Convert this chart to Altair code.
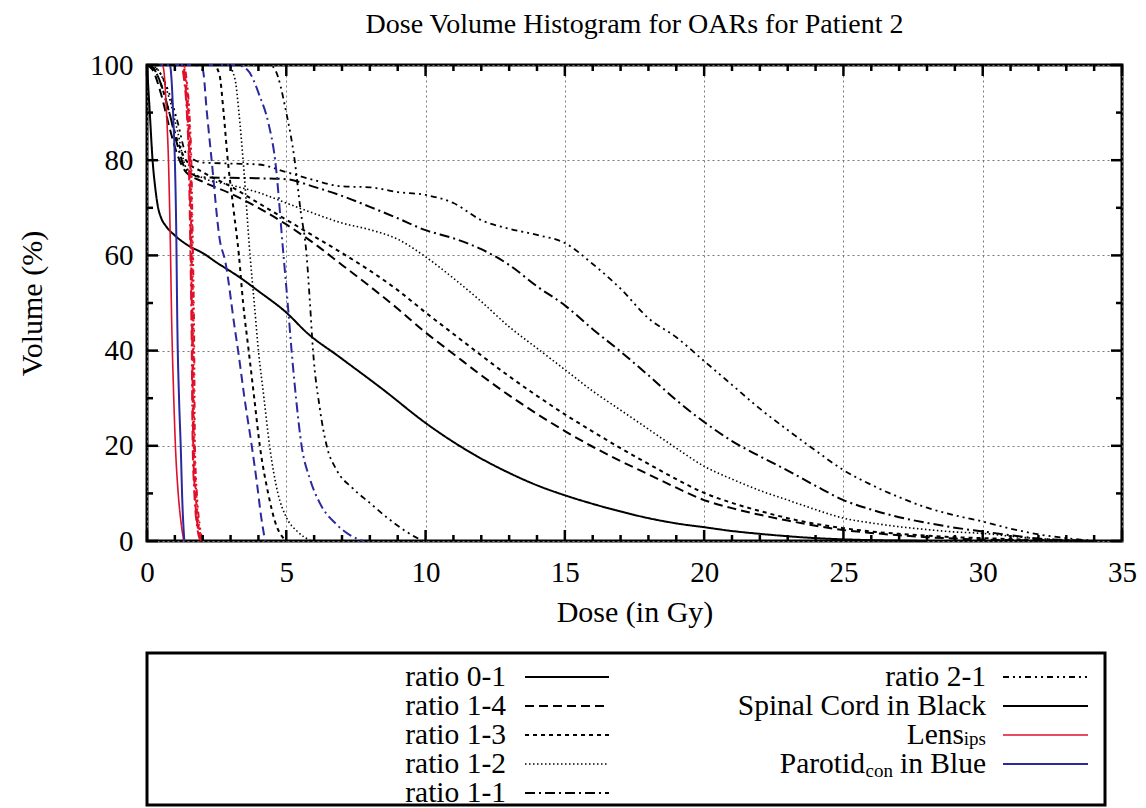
import altair as alt
import pandas as pd

FONT = "Liberation Serif, Times New Roman, Times, serif"
W, H = 975, 476

# ---------------- dose-volume data ----------------
# Spinal cord, shared dose grid (Gy) for the ratio 1-4 .. 2-1 plans
SC_DOSE = [0, 0.2, 0.5, 0.8, 1.1, 1.4, 2, 3, 4, 5, 6, 7, 8, 9, 10, 11, 12, 13, 14, 15,
           16, 17, 18, 19, 20, 21, 22, 23, 24, 25, 26, 27, 28, 29, 30, 31, 32, 33, 34]
SC_1_4 = [100, 99, 94, 87, 81, 77.5, 75.5, 73, 70, 66.5, 62.5, 58, 53.5, 48.8, 43.8, 39.3, 34.8,
          30.6, 26.7, 23.1, 19.8, 16.8, 14, 11.2, 8.6, 6.9, 5.5, 4.3, 3.2, 2.3, 1.7, 1.2, 0.8,
          0.5, 0.3, 0.2, 0.1, 0.05, 0]
SC_1_3 = [100, 99.5, 96, 90, 84, 80, 77.5, 74.5, 71, 67.5, 64, 60.5, 56.8, 52.7, 48, 43.5, 39,
          34.6, 30.5, 26.6, 23, 19.5, 16.2, 13, 10.1, 8, 6.3, 4.8, 3.6, 2.7, 2, 1.5, 1.1, 0.8,
          0.6, 0.4, 0.2, 0.1, 0]
SC_1_2 = [100, 99.8, 98, 93, 86, 78.5, 76.3, 74.8, 73.2, 71, 68.8, 66.8, 65.4, 63.4, 59.7, 55.2,
          50.3, 45, 40.5, 36, 31.5, 27.5, 23.5, 19.5, 15.7, 13, 10.6, 8.6, 6.6, 4.8, 3.8, 3, 2.4,
          1.9, 1.6, 1, 0.5, 0.2, 0]
SC_1_1 = [100, 99.5, 96, 90, 83, 78, 76.4, 76.3, 76.2, 76, 74.4, 72.5, 70.2, 67.8, 65.3, 63.6,
          61.3, 58, 53.5, 49.5, 44.5, 39.8, 34.8, 29.6, 25, 21, 17.8, 14.8, 11.6, 8.6, 6.6, 5,
          3.8, 2.8, 2, 1.2, 0.5, 0.2, 0]
SC_2_1 = [100, 99.8, 98, 94, 88, 81.5, 79.5, 79.3, 79.1, 77.5, 75.8, 74.5, 74.3, 73.3, 72.7, 71,
          67.4, 65.6, 64.3, 62.6, 58.2, 53, 46.8, 42.8, 37.8, 32.8, 27.8, 23.3, 19, 14.9, 11.8,
          9.2, 7, 5.4, 4.1, 2.6, 1.4, 0.6, 0]
SC_0_1_DOSE = [0, 0.05, 0.1, 0.2, 0.3, 0.4, 0.5, 0.7, 1, 1.5, 2, 2.5, 3.3, 4, 5, 5.75, 6.9, 8.5,
               10, 11, 12, 13, 14, 15, 16, 17, 18, 19, 20, 21, 22, 23, 24, 25, 26, 27, 28]
SC_0_1 = [100, 95, 90, 80, 74, 70, 68, 66, 64.2, 62, 60.5, 58.5, 55.5, 52.5, 48, 43.7, 38.7, 31.7,
          24.8, 20.8, 17.3, 14.3, 11.7, 9.6, 7.8, 6.2, 4.8, 3.7, 2.9, 2.1, 1.5, 1.0, 0.6, 0.35,
          0.18, 0.08, 0]

# Lens (ipsilateral)
LENS_0_1_DOSE = [0, 0.55, 0.62, 0.7, 0.77, 0.83, 0.89, 0.95, 1.02, 1.12, 1.22, 1.32]
LENS_0_1 = [100, 100, 98, 90, 80, 65, 45, 32, 20, 10, 4, 0]
LENS_VOL = [100, 100, 97, 90, 80, 60, 44, 20, 10, 3, 0]
LENS_1_4_DOSE = [0, 1.25, 1.35, 1.45, 1.52, 1.58, 1.62, 1.66, 1.72, 1.82, 1.95]
LENS_1_3_DOSE = [0, 1.28, 1.38, 1.48, 1.55, 1.6, 1.64, 1.68, 1.75, 1.85, 1.97]
LENS_1_2_DOSE = [0, 1.3, 1.4, 1.5, 1.57, 1.63, 1.67, 1.7, 1.77, 1.87, 2.0]
LENS_1_1_DOSE = [0, 1.22, 1.33, 1.43, 1.5, 1.56, 1.6, 1.64, 1.7, 1.8, 1.92]
LENS_2_1_DOSE = [0, 1.32, 1.42, 1.52, 1.59, 1.65, 1.69, 1.72, 1.79, 1.9, 2.02]

# Parotid (contralateral)
PAR_0_1_DOSE = [0, 0.82, 0.88, 0.95, 1.0, 1.05, 1.09, 1.15, 1.21, 1.27, 1.34]
PAR_0_1 = [100, 100, 97, 88, 80, 65, 45, 30, 20, 8, 0]
PAR_1_4_DOSE = [0, 1.7, 2.0, 2.15, 2.32, 2.62, 2.8, 3.16, 3.27, 3.5, 3.76, 3.95, 4.1, 4.24]
PAR_1_4 = [100, 100, 99, 90, 80, 63, 59, 44.3, 40, 30, 20, 12, 5, 0]
PAR_1_3_DOSE = [0, 2.4, 2.6, 2.75, 2.9, 3.1, 3.3, 3.45, 3.65, 3.85, 4.05, 4.35, 4.6, 5.0]
PAR_1_3 = [100, 100, 98, 90, 80, 70, 60, 50, 40, 30, 20, 10, 4, 0]
PAR_1_2_DOSE = [0, 2.9, 3.16, 3.3, 3.45, 3.7, 3.85, 4.0, 4.2, 4.4, 4.7, 5.0, 5.4, 5.9]
PAR_1_2 = [100, 100, 97, 90, 80, 60, 50, 40, 30, 20, 10, 5, 2, 0]
PAR_1_1_DOSE = [0, 3.2, 3.6, 4.05, 4.35, 4.6, 4.9, 5.05, 5.19, 5.35, 5.55, 5.85, 6.2, 6.8, 7.3, 7.75]
PAR_1_1 = [100, 100, 99, 93.4, 88, 80, 60, 50, 40, 30, 20, 13, 8, 3.5, 1.2, 0]
PAR_2_1_DOSE = [0, 4.4, 4.6, 5.0, 5.3, 5.5, 5.73, 5.85, 5.96, 6.2, 6.45, 6.8, 7.4, 8.0, 8.6, 9.3, 9.9]
PAR_2_1 = [100, 100, 99, 90, 80, 70, 60, 50, 40, 28, 20, 15, 11, 8, 5, 2, 0]

# axis ticks
X_MAJOR = [0, 5, 10, 15, 20, 25, 30, 35]
X_MINOR = [1, 2, 3, 4, 6, 7, 8, 9, 11, 12, 13, 14, 16, 17, 18, 19, 21, 22, 23, 24,
           26, 27, 28, 29, 31, 32, 33, 34]
Y_MAJOR = [0, 20, 40, 60, 80, 100]
Y_MINOR = [10, 30, 50, 70, 90]

# line styles (gnuplot-like dash types) and inks
STYLES = ["solid", "dashed", "short", "dotted", "dashdot", "dashdotdot"]
DASHES = [[1, 0], [9, 5], [4, 4], [1.5, 2.5], [10, 4, 2, 4], [6, 4, 2, 4, 2, 4]]
INKS = ["black", "red", "blue"]
INK_COLORS = ["#000000", "#e0102a", "#2a2a9e"]

curves = [
    ("sc_0_1", SC_0_1_DOSE, SC_0_1, "solid", "black", 2.0),
    ("sc_1_4", SC_DOSE, SC_1_4, "dashed", "black", 2.0),
    ("sc_1_3", SC_DOSE, SC_1_3, "short", "black", 2.0),
    ("sc_1_2", SC_DOSE, SC_1_2, "dotted", "black", 1.6),
    ("sc_1_1", SC_DOSE, SC_1_1, "dashdot", "black", 2.0),
    ("sc_2_1", SC_DOSE, SC_2_1, "dashdotdot", "black", 1.8),
    ("lens_0_1", LENS_0_1_DOSE, LENS_0_1, "solid", "red", 1.6),
    ("lens_1_4", LENS_1_4_DOSE, LENS_VOL, "dashed", "red", 2.0),
    ("lens_1_3", LENS_1_3_DOSE, LENS_VOL, "short", "red", 2.0),
    ("lens_1_2", LENS_1_2_DOSE, LENS_VOL, "dotted", "red", 2.0),
    ("lens_1_1", LENS_1_1_DOSE, LENS_VOL, "dashdot", "red", 2.0),
    ("lens_2_1", LENS_2_1_DOSE, LENS_VOL, "dashdotdot", "red", 2.0),
    ("par_0_1", PAR_0_1_DOSE, PAR_0_1, "solid", "blue", 2.0),
    ("par_1_4", PAR_1_4_DOSE, PAR_1_4, "dashed", "blue", 2.0),
    ("par_1_3", PAR_1_3_DOSE, PAR_1_3, "short", "black", 2.0),
    ("par_1_2", PAR_1_2_DOSE, PAR_1_2, "dotted", "black", 1.6),
    ("par_1_1", PAR_1_1_DOSE, PAR_1_1, "dashdot", "blue", 2.0),
    ("par_2_1", PAR_2_1_DOSE, PAR_2_1, "dashdotdot", "black", 1.8),
]

rows = []
for name, dose, vol, style, ink, w in curves:
    for d, v in zip(dose, vol):
        rows.append({"curve": name, "dose": d, "volume": v, "style": style, "ink": ink, "w": w})
df = pd.DataFrame(rows)

x_scale = alt.Scale(domain=[0, 35], nice=False, zero=False)
y_scale = alt.Scale(domain=[0, 100], nice=False, zero=False)

LABEL_FS, AXIS_TITLE_FS = 29, 30

x_axis = alt.Axis(
    values=X_MAJOR, format="d", title="Dose (in Gy)", labelFont=FONT, labelFontSize=LABEL_FS,
    labelColor="black", labelPadding=17, labelFlush=False, ticks=False, domain=False,
    grid=True, gridDash=[2, 3], gridColor="#7a7a7a", gridWidth=1,
    titleFont=FONT, titleFontSize=AXIS_TITLE_FS, titleFontWeight="normal", titleColor="black",
    titleY=71, titleBaseline="middle",
)
y_axis = alt.Axis(
    values=Y_MAJOR, format="d", title="Volume (%)", labelFont=FONT, labelFontSize=LABEL_FS,
    labelColor="black", labelPadding=14, labelFlush=False, ticks=False, domain=False,
    grid=True, gridDash=[2, 3], gridColor="#7a7a7a", gridWidth=1,
    titleFont=FONT, titleFontSize=AXIS_TITLE_FS, titleFontWeight="normal", titleColor="black",
    titleX=-115, titleY=H / 2, titleAngle=270, titleAlign="center", titleBaseline="middle",
)

lines = alt.Chart(df).mark_line(interpolate="monotone").encode(
    x=alt.X("dose:Q", scale=x_scale, axis=x_axis, title="Dose (in Gy)"),
    y=alt.Y("volume:Q", scale=y_scale, axis=y_axis, title="Volume (%)"),
    detail="curve:N",
    color=alt.Color("ink:N", scale=alt.Scale(domain=INKS, range=INK_COLORS), legend=None),
    strokeDash=alt.StrokeDash("style:N", scale=alt.Scale(domain=STYLES, range=DASHES), legend=None),
    strokeWidth=alt.StrokeWidth("w:Q", scale=None),
)

layers = [lines]


# inward tick marks on all four sides (same dose / volume fields as the curves)
def x_ticks(values, length, width):
    src = pd.DataFrame({"dose": values})
    enc_x = alt.X("dose:Q", scale=x_scale, axis=x_axis, title="Dose (in Gy)")
    bottom = alt.Chart(src).mark_rule(color="black", strokeWidth=width).encode(
        x=enc_x, y=alt.value(H), y2=alt.value(H - length))
    top = alt.Chart(src).mark_rule(color="black", strokeWidth=width).encode(
        x=enc_x, y=alt.value(0), y2=alt.value(length))
    return [bottom, top]


def y_ticks(values, length, width):
    src = pd.DataFrame({"volume": values})
    enc_y = alt.Y("volume:Q", scale=y_scale, axis=y_axis, title="Volume (%)")
    left = alt.Chart(src).mark_rule(color="black", strokeWidth=width).encode(
        y=enc_y, x=alt.value(0), x2=alt.value(length))
    right = alt.Chart(src).mark_rule(color="black", strokeWidth=width).encode(
        y=enc_y, x=alt.value(W), x2=alt.value(W - length))
    return [left, right]


layers += x_ticks(X_MAJOR, 11, 2.5) + x_ticks(X_MINOR, 6, 2.5)
layers += y_ticks(Y_MAJOR, 11, 2.5) + y_ticks(Y_MINOR, 6, 2.5)

# key below the plot
one = pd.DataFrame({"k": [0]})
KEY_LEFT, KEY_RIGHT, KEY_TOP, KEY_BOTTOM = 0, 958, 588, 740
ROWS = [612, 641, 670, 699, 728]
C1_TEXT, C1_S0, C1_S1 = 359, 378, 462
C2_TEXT, C2_S0, C2_S1 = 839, 856, 941
FS, SUB_FS = 29.5, 19

layers.append(alt.Chart(one).mark_rect(filled=False, color="black", strokeWidth=3).encode(
    x=alt.value(KEY_LEFT), x2=alt.value(KEY_RIGHT), y=alt.value(KEY_TOP), y2=alt.value(KEY_BOTTOM)))


def key_text(txt, x, y, size=FS):
    return alt.Chart(one).mark_text(text=txt, align="right", baseline="middle", font=FONT,
                                    fontSize=size, color="black").encode(
        x=alt.value(x), y=alt.value(y))


def key_line(x0, x1, y, style, ink, w=2.0):
    dash = DASHES[STYLES.index(style)]
    col = INK_COLORS[INKS.index(ink)]
    return alt.Chart(one).mark_rule(color=col, strokeDash=dash, strokeWidth=w).encode(
        x=alt.value(x0), x2=alt.value(x1), y=alt.value(y))


KEY_COL1 = [("ratio 0-1", "solid"), ("ratio 1-4", "dashed"), ("ratio 1-3", "short"),
            ("ratio 1-2", "dotted"), ("ratio 1-1", "dashdot")]
for (label, style), y in zip(KEY_COL1, ROWS):
    layers.append(key_text(label, C1_TEXT, y))
    layers.append(key_line(C1_S0, C1_S1, y, style, "black", 1.6 if style == "dotted" else 2.0))

layers.append(key_text("ratio 2-1", C2_TEXT, ROWS[0]))
layers.append(key_line(C2_S0, C2_S1, ROWS[0], "dashdotdot", "black", 1.8))
layers.append(key_text("Spinal Cord in Black", C2_TEXT, ROWS[1]))
layers.append(key_line(C2_S0, C2_S1, ROWS[1], "solid", "black"))
layers.append(key_text("ips", C2_TEXT, ROWS[2] + 4, SUB_FS))
layers.append(key_text("Lens", C2_TEXT - 22, ROWS[2]))
layers.append(key_line(C2_S0, C2_S1, ROWS[2], "solid", "red", 1.6))
layers.append(key_text("in Blue", C2_TEXT, ROWS[3]))
layers.append(key_text("con", C2_TEXT - 93, ROWS[3] + 7, SUB_FS))
layers.append(key_text("Parotid", C2_TEXT - 121, ROWS[3]))
layers.append(key_line(C2_S0, C2_S1, ROWS[3], "solid", "blue"))

chart = alt.layer(*layers).properties(
    width=W,
    height=H,
    title=alt.TitleParams("Dose Volume Histogram for OARs for Patient 2", font=FONT, fontSize=28,
                          fontWeight="normal", color="black", anchor="middle", offset=12),
    autosize=alt.AutoSizeParams(type="none"),
    padding={"left": 147, "top": 65, "right": 24, "bottom": 267},
    background="white",
).configure_view(stroke="black", strokeWidth=3).configure_text(font=FONT)

chart.save("out.html", embed_options={"renderer": "svg", "actions": False})
